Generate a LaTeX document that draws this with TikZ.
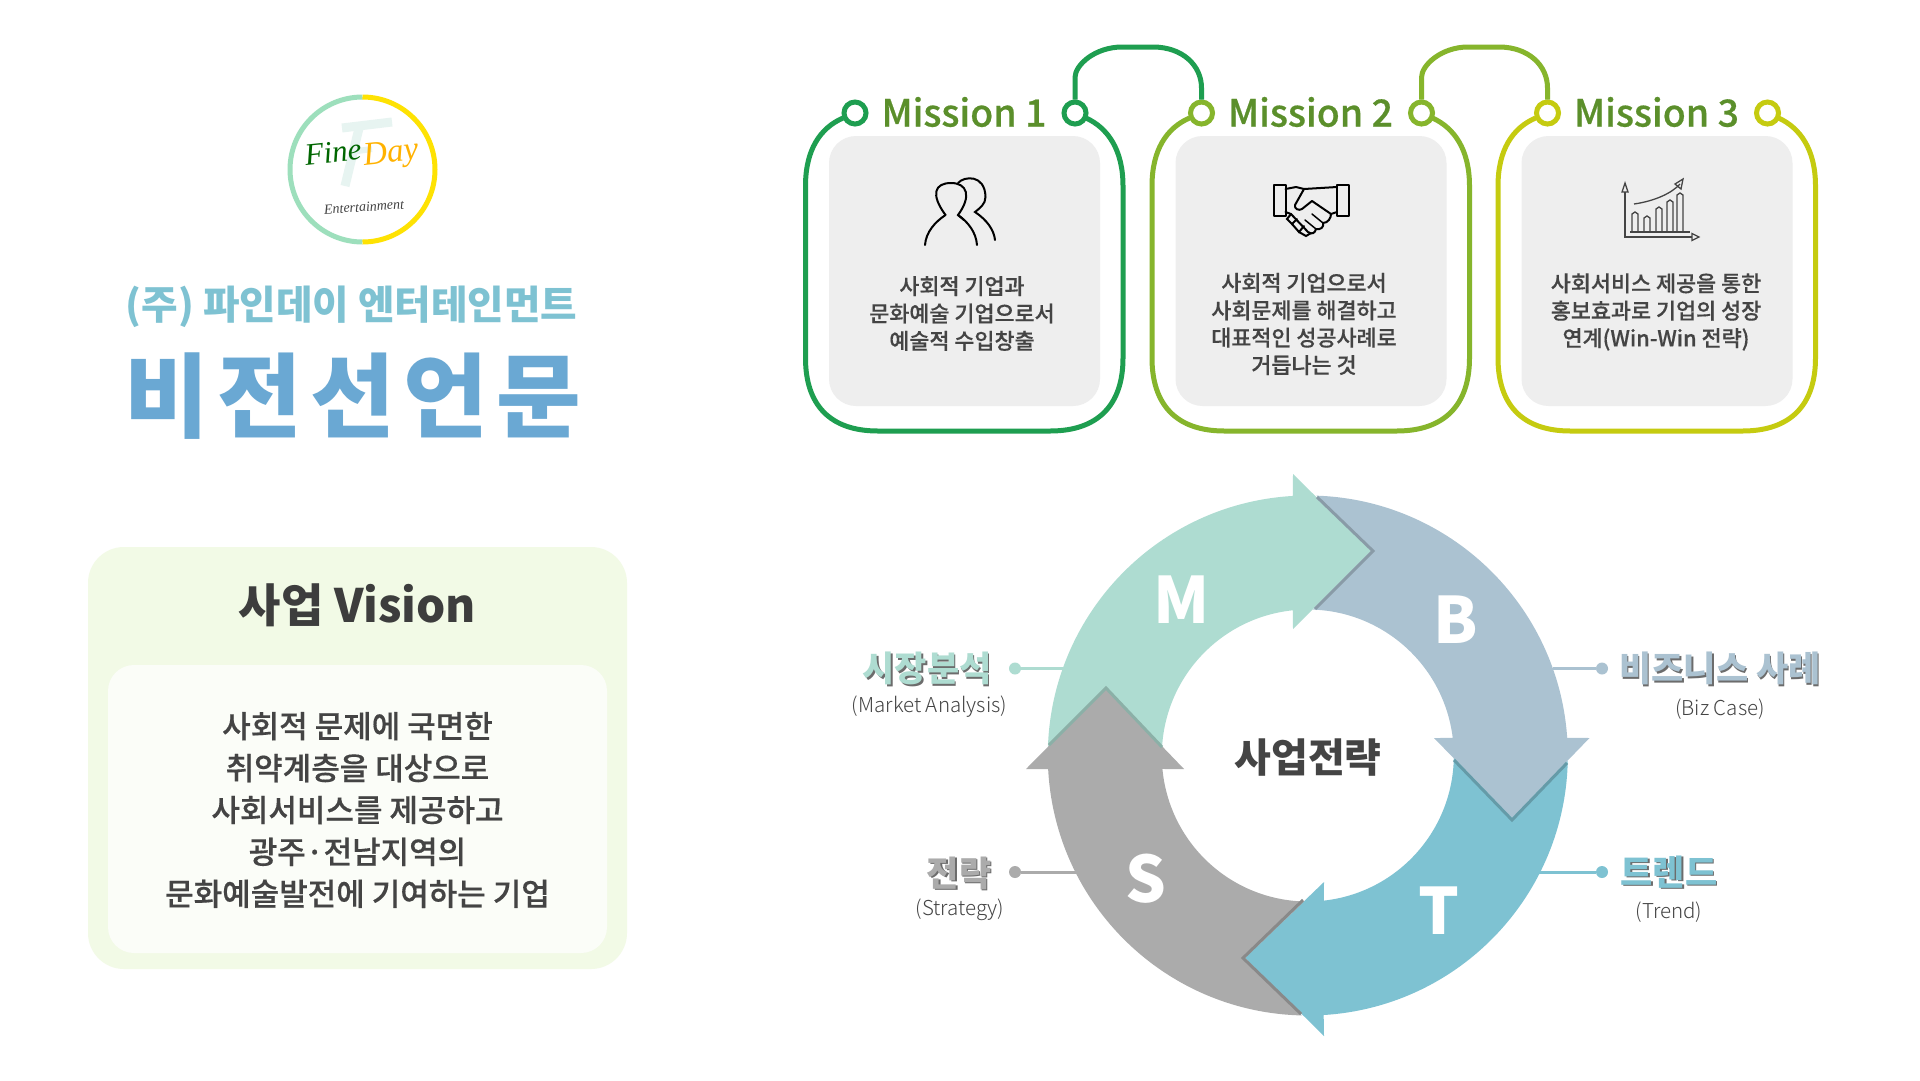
\documentclass[tikz,border=0pt]{standalone}
\usepackage{fontspec}
\setmainfont{Noto Sans CJK KR}
\newfontfamily\medfont{Noto Sans CJK KR Medium}
\newfontfamily\lightfont{Noto Sans CJK KR Light}
\newfontfamily\logofont{Liberation Serif}
\definecolor{missiona}{HTML}{1E9E50}
\definecolor{missionb}{HTML}{86B52C}
\definecolor{missionc}{HTML}{C5CB10}
\definecolor{headgreen}{HTML}{5B8F2B}
\definecolor{cardgray}{HTML}{EEEEEE}
\definecolor{textgray}{HTML}{444444}
\definecolor{armm}{HTML}{AEDCD1}
\definecolor{armb}{HTML}{ABC2D1}
\definecolor{armt}{HTML}{7EC2D2}
\definecolor{arms}{HTML}{ABABAB}
\definecolor{visionblue}{HTML}{6AA8D3}
\definecolor{boxouter}{HTML}{F2FAE6}
\definecolor{boxinner}{HTML}{FBFDF8}
\tikzset{
	ringdot/.style={circle,draw=#1,line width=5pt,fill=white,minimum size=22pt,inner sep=0pt},
	headtext/.style={text=headgreen,font=\medfont\addfontfeature{FakeBold=0.5}\fontsize{37.5}{44}\selectfont},
	cardtext/.style={text=textgray,align=center,font=\medfont\addfontfeature{FakeBold=0.4}\fontsize{21.8}{27.4}\selectfont},
	arcletter/.style={text=white,font=\bfseries\fontsize{64}{70}\selectfont},
	sidehead/.style={text=#1,font=\bfseries\fontsize{35}{40}\selectfont},
	sideshadow/.style={text=gray!85!black,font=\bfseries\fontsize{35}{40}\selectfont},
	sidesub/.style={text=textgray,font=\lightfont\fontsize{20.5}{24}\selectfont},
	enddot/.style={circle,fill=#1,minimum size=12pt,inner sep=0pt},
}
\begin{document}
\begin{tikzpicture}[x=1pt,y=-1pt]
	\useasboundingbox (0,0) rectangle (1920,1080);
	\fill[white] (0,0) rectangle (1920,1080);

	% logo
	\draw[line width=5pt,draw=armm!90!green] (362.5,242) arc[start angle=90,end angle=270,radius=72.5];
	\draw[line width=5pt,draw=yellow!85!orange] (362.5,97) arc[start angle=-90,end angle=90,radius=72.5];
	\draw[line width=9pt,draw=armm!30] (342,128) -- (392,122);
	\draw[line width=9pt,draw=armm!30] (360,124) -- (345,186);
	\draw[line width=6pt,draw=armm!30] (350,152) -- (372,149);
	\node[rotate=6,text=green!40!black] (fine) at (333,152) {\logofont\itshape\fontsize{31}{36}\selectfont Fine};
	\node[rotate=6,text=orange!60!yellow] (day) at (391,155) {\logofont\itshape\fontsize{33}{38}\selectfont Day};
	\node[rotate=4,text=textgray] (ent) at (364,207) {\logofont\itshape\fontsize{14}{18}\selectfont Entertainment};

	% titles
	\node[text=armt] (company) at (351.5,306.5) {\bfseries\fontsize{39.7}{46}\selectfont (주) 파인데이 엔터테인먼트};
	\node[text=visionblue] (vision) at (353,396.5) {\addfontfeature{LetterSpace=9}\bfseries\fontsize{92}{100}\selectfont 비전선언문};

	% vision box
	\fill[boxouter] (88,547) [rounded corners=36pt] rectangle (627,969);
	\fill[boxinner] (108,665) [rounded corners=26pt] rectangle (607,953);
	\node[text=textgray!90!black,font=\bfseries\fontsize{46}{54}\selectfont] (visionhead) at (357.5,605) {사업 Vision};
	\node[text=textgray,align=center,font=\medfont\addfontfeature{FakeBold=0.4}\fontsize{31}{41.9}\selectfont] (visionbody) at (357.5,810) {사회적 문제에 국면한\\취약계층을 대상으로\\사회서비스를 제공하고\\광주·전남지역의\\문화예술발전에 기여하는 기업};

	% mission cards
	\foreach \n/\x/\col in {1/0/missiona,2/346.5/missionb,3/692.5/missionc} {
		\begin{scope}[xshift=\x pt]
			\fill[cardgray,rounded corners=27pt] (829,136) rectangle (1100,406);
			\draw[line width=5pt,draw=\col] (843,118) .. controls (820,128) and (805.5,150) .. (805.5,186)
				-- (805.5,358) .. controls (805.5,405) and (830,431) .. (878,431)
				-- (1050,431) .. controls (1098,431) and (1123,405) .. (1123,358)
				-- (1123,186) .. controls (1123,150) and (1108,128) .. (1086,118);
			\node[ringdot=\col] (ml\n) at (855,113) {};
			\node[ringdot=\col] (mr\n) at (1075,113) {};
			\node[headtext] (mh\n) at (964,112) {Mission \n};
		\end{scope}
	}
	\draw[line width=5pt,draw=missiona] (mr1.north) -- ++(0,-22) .. controls (1075,65) and (1095,47) .. (1122,47)
		-- (1153,47) .. controls (1182,47) and (1201.5,65) .. (1201.5,88) -- (ml2.north);
	\draw[line width=5pt,draw=missionb] (mr2.north) -- ++(0,-22) .. controls (1421.5,65) and (1441.5,47) .. (1468,47)
		-- (1499,47) .. controls (1528,47) and (1547.5,65) .. (1547.5,88) -- (ml3.north);

	\node[cardtext] (ma) at (962,313.5) {사회적 기업과\\문화예술 기업으로서\\예술적 수입창출};
	\node[cardtext] (mb) at (1304,324) {사회적 기업으로서\\사회문제를 해결하고\\대표적인 성공사례로\\거듭나는 것};
	\node[cardtext] (mc) at (1656,312) {사회서비스 제공을 통한\\홍보효과로 기업의 성장\\연계(Win-Win 전략)};

	% people icon
	\draw[line width=2pt,line cap=round] (945.5,215) .. controls (930,194) and (935,183) .. (951,183)
		.. controls (967,183) and (972,196) .. (958,215) .. controls (968,222) and (976,232) .. (977,245);
	\draw[line width=2pt,line cap=round] (945.5,215) .. controls (935,222) and (926,232) .. (925,245);
	\draw[line width=2pt,line cap=round] (958,183) .. controls (964,176) and (985,174) .. (985.5,197)
		.. controls (985.5,204) and (980,208) .. (975,212) .. controls (987,220) and (994,230) .. (995,240);
	\draw[line width=2pt,line cap=round] (958,215) -- (964,220);

	% handshake icon
	\draw[line width=2pt,line join=round] (1274,185) rectangle (1285.5,216);
	\draw[line width=2pt,line join=round] (1337,185) rectangle (1349,216);
	\draw[line width=2pt,line join=round,line cap=round] (1285.5,189) -- (1296,187) -- (1304,189) -- (1337,187);
	\draw[line width=2pt,line join=round,line cap=round] (1304,189) -- (1295,205) .. controls (1294,209) and (1299,211) .. (1302,209)
		-- (1312,201) -- (1331,214) -- (1337,212);
	\draw[line width=2pt,line join=round,line cap=round] (1285.5,212) -- (1291,214) -- (1308,232) .. controls (1312,235) and (1315,233) .. (1316,229)
		.. controls (1321,230) and (1324,227) .. (1323,223) .. controls (1328,223) and (1331,218) .. (1331,214);
	\draw[line width=2pt,line cap=round] (1291,214) -- (1287,219) -- (1292,224) -- (1297,219);
	\draw[line width=2pt,line cap=round] (1292,224) -- (1299,232) -- (1304,226);
	\draw[line width=2pt,line cap=round] (1299,232) -- (1306,236) -- (1311,233);
	\draw[line width=1.5pt,line cap=round] (1312,214) -- (1323,223);
	\draw[line width=1.5pt,line cap=round] (1305,220) -- (1316,229);

	% chart icon
	\begin{scope}[draw=textgray,line width=1.3pt]
		\draw (1625,192) -- (1625,237) -- (1692,237);
		\draw (1622,192) -- (1625,183) -- (1628,192) -- cycle;
		\draw (1692,233.5) -- (1699,237) -- (1692,240.5) -- cycle;
		\foreach \bx/\bt in {1635/212,1647/216,1659/207,1670/200,1680/193}
			\draw (\bx-3,232) -- (\bx-3,\bt+2) -- (\bx,\bt) -- (\bx+3,\bt+2) -- (\bx+3,232);
		\draw (1630,232) -- (1690,232);
		\draw (1634,204) .. controls (1655,201) and (1672,193) .. (1680,184);
		\draw (1675,184) -- (1683,179) -- (1681,189) -- cycle;
	\end{scope}

	% cycle
	\coordinate (c) at (1307.8,755.5);
	\fill[armm] ([shift={(182:260)}]c) arc[start angle=182,end angle=266.7,radius=260]
		-- (1293,474) -- (1371,551) -- (1293,629)
		-- ([shift={(264.1:146)}]c) arc[start angle=264.1,end angle=183.5,radius=146]
		-- (1106,688) -- cycle;
	\fill[armb] ([shift={(-88.1:260)}]c) arc[start angle=-88.1,end angle=-3.9,radius=260]
		-- (1589.5,738) -- (1512,818) -- (1434,738)
		-- ([shift={(-6.9:146)}]c) arc[start angle=-6.9,end angle=-88,radius=146]
		-- (1371,551) -- cycle;
	\fill[armt] ([shift={(1.2:260)}]c) arc[start angle=1.2,end angle=86.5,radius=260]
		-- (1324,1036) -- (1245,958) -- (1324,882)
		-- ([shift={(83.7:146)}]c) arc[start angle=83.7,end angle=1,radius=146]
		-- (1512,818) -- cycle;
	\fill[arms] ([shift={(91.3:260)}]c) arc[start angle=91.3,end angle=177,radius=260]
		-- (1026,769) -- (1106,688) -- (1184,769)
		-- ([shift={(174.7:146)}]c) arc[start angle=174.7,end angle=91.5,radius=146]
		-- (1245,958) -- cycle;
	% dark edges of the heads
	\draw[line width=3pt,draw=armb!80!black] (1317,497) -- (1373,551) -- (1315,609);
	\draw[line width=3pt,draw=armt!80!black] (1454,760) -- (1512,820) -- (1567,763);
	\draw[line width=3pt,draw=arms!80!black] (1303,900) -- (1243,958) -- (1301,1014);
	\draw[line width=3pt,draw=armm!80!black] (1049,745) -- (1106,688) -- (1162,747);

	\node[arcletter] (lm) at (1182,600) {M};
	\node[arcletter] (lb) at (1456,620) {B};
	\node[arcletter] (lt) at (1439,911) {T};
	\node[arcletter] (ls) at (1146,879) {S};
	\node[text=textgray] (core) at (1308,758) {\bfseries\fontsize{40}{46}\selectfont 사업전략};

	% side labels
	\node[sideshadow] (sm0) at (928.5,670) {시장분석};
	\node[sidehead=armm] (sm) at (927,668.5) {시장분석};
	\node[sidesub] (smsub) at (929.5,706.5) {(Market Analysis)};
	\node[enddot=armm] (dm) at (1015,668.5) {};
	\coordinate (em) at (1065,668.5);
	\draw[line width=3pt,draw=armm] (dm) -- (em);

	\node[sideshadow] (ss0) at (960.5,874.5) {전략};
	\node[sidehead=arms] (ss) at (959,873) {전략};
	\node[sidesub] (sssub) at (960,910) {(Strategy)};
	\node[enddot=arms] (ds) at (1015,872) {};
	\coordinate (es) at (1078,872);
	\draw[line width=3pt,draw=arms] (ds) -- (es);

	\node[sideshadow] (sb0) at (1721.5,670) {비즈니스 사례};
	\node[sidehead=armb] (sb) at (1720,668.5) {비즈니스 사례};
	\node[sidesub] (sbsub) at (1720,709) {(Biz Case)};
	\node[enddot=armb] (db) at (1602,668.5) {};
	\coordinate (eb) at (1553,668.5);
	\draw[line width=3pt,draw=armb] (db) -- (eb);

	\node[sideshadow] (st0) at (1670.5,873.5) {트렌드};
	\node[sidehead=armt] (st) at (1669,872) {트렌드};
	\node[sidesub] (stsub) at (1669,912.5) {(Trend)};
	\node[enddot=armt] (dt) at (1602,872) {};
	\coordinate (et) at (1538,872);
	\draw[line width=3pt,draw=armt] (dt) -- (et);
\end{tikzpicture}
\end{document}
